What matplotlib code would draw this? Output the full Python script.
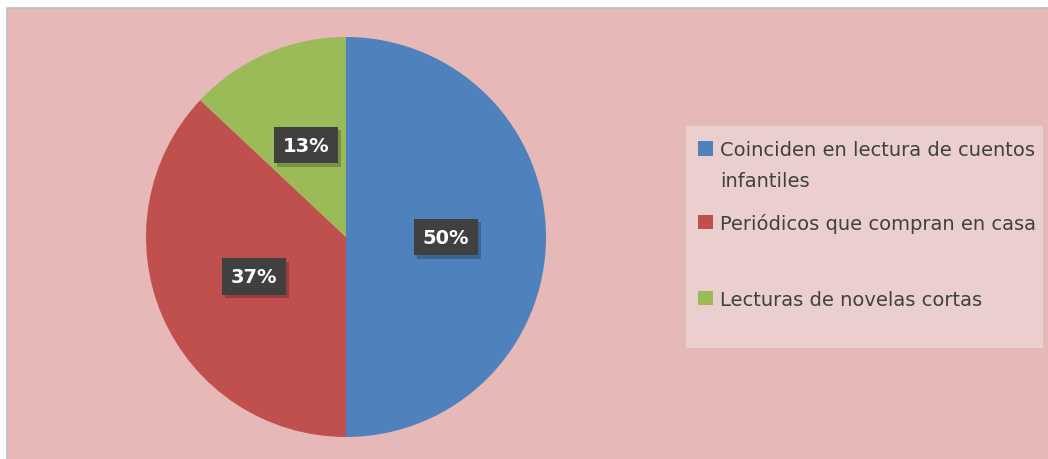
import matplotlib.pyplot as plt
import matplotlib.patheffects as pe
from matplotlib.patches import Rectangle

# data
labels = ["Coinciden en lectura de cuentos\ninfantiles",
          "Periódicos que compran en casa",
          "Lecturas de novelas cortas"]
values = [50, 37, 13]
colors = ["#4F81BD", "#C0504D", "#9BBB59"]

W, H = 1048, 460
fig = plt.figure(figsize=(W / 100, H / 100), dpi=100, facecolor="white")


def fx(px):
    return px / W


def fy(py):
    # pixel row measured from top -> figure fraction
    return 1 - py / H


# chart area background
fig.patches.append(Rectangle((fx(7), -0.05), 1.1, fy(9) + 0.05, transform=fig.transFigure,
                             facecolor="#E6B8B7", edgecolor="#BFBFBF", linewidth=1.2,
                             zorder=-5))

# pie
ax = fig.add_axes([fx(146), fy(438), fx(400), 400 / H], zorder=5)
ax.patch.set_alpha(0)
wedges, texts, autotexts = ax.pie(values, colors=colors, startangle=90, counterclock=False,
                                  autopct="%1.0f%%", pctdistance=0.5,
                                  wedgeprops=dict(linewidth=0))
ax.set_xlim(-1, 1)
ax.set_ylim(-1, 1)
ax.set_aspect("equal")
for t in autotexts:
    t.set_color("white")
    t.set_fontweight("bold")
    t.set_fontsize(14)
    t.set_bbox(dict(boxstyle="square,pad=0.45", facecolor="#404040", edgecolor="none"))
    t.get_bbox_patch().set_path_effects([
        pe.SimplePatchShadow(offset=(2, -2.5), shadow_rgbFace="black", alpha=0.22),
        pe.Normal()])

# legend (drawn by hand to keep the top-aligned slots)
fig.patches.append(Rectangle((fx(686), fy(349)), fx(1043 - 686), (349 - 127) / H,
                             transform=fig.transFigure, facecolor="#EBCFCF",
                             edgecolor="none", zorder=-4))
rows = [149.5, 223, 299]
for lab, col, yc in zip(labels, colors, rows):
    fig.patches.append(Rectangle((fx(698), fy(yc + 7)), fx(15), 14 / H,
                                 transform=fig.transFigure, facecolor=col,
                                 edgecolor="none", zorder=-3))
    for i, line in enumerate(lab.split("\n")):
        fig.text(fx(720), fy(yc + 7 + 31 * i), line, fontsize=14, color="#404040",
                 va="baseline", ha="left")

fig.savefig("out.png", dpi=100)
